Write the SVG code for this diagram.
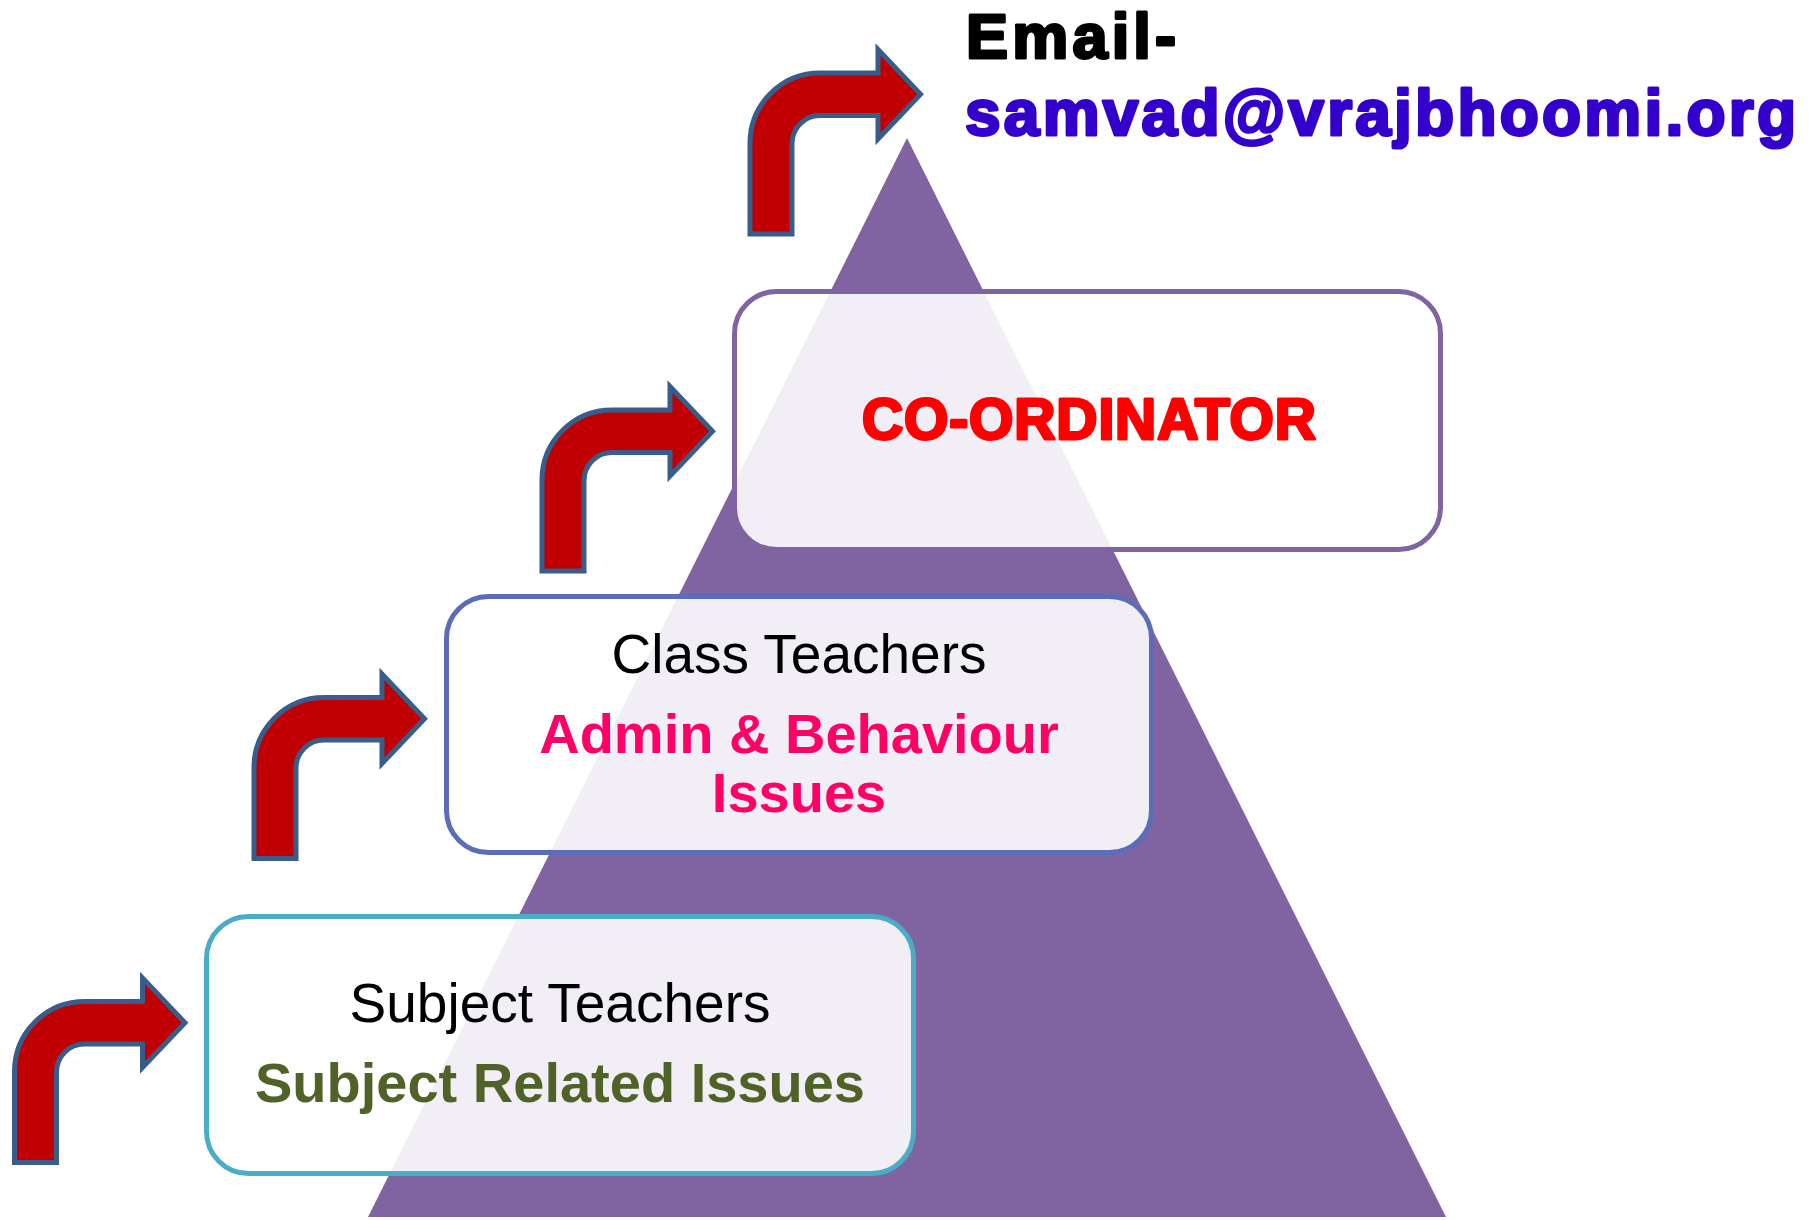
<svg xmlns="http://www.w3.org/2000/svg" xmlns:xlink="http://www.w3.org/1999/xlink" width="1818" height="1220" viewBox="0 0 1818 1220">
<style>
.box{fill:#FFFFFF;fill-opacity:0.89;stroke-width:5}
.reg{font-family:"Liberation Sans",Arial,sans-serif;font-size:55px;fill:#000000;text-anchor:middle}
.bold{font-family:"Liberation Sans",Arial,sans-serif;font-size:56px;font-weight:bold;text-anchor:middle}
.arrow{fill:#C00000;stroke:#385D8A;stroke-width:5;stroke-linejoin:miter}
.heavy{font-family:"Liberation Sans",Arial,sans-serif;font-weight:bold;stroke-width:3;stroke-linejoin:round}
</style>
<defs>
<path id="bentArrow" d="M0 0 V-91 A70 70 0 0 1 70 -161 H128 V-184.5 L170.5 -139.75 L128 -95 V-118.5 H70 A28 28 0 0 0 42 -90.5 V0 Z"/>
</defs>
<rect width="1818" height="1220" fill="#FFFFFF"/>
<polygon id="pyramid" points="907,138 1446,1217 368,1217" fill="#8064A2"/>

<g id="node-subject-teachers">
<rect class="box" x="206.5" y="916.5" width="707" height="257" rx="42" stroke="#4BACC6"/>
<text class="reg" x="560" y="1021.5">Subject Teachers</text>
<text class="bold" x="560" y="1101.5" fill="#4F6228">Subject Related Issues</text>
</g>

<g id="node-class-teachers">
<rect class="box" x="446.5" y="596.5" width="705" height="256" rx="42" stroke="#5B6DB8"/>
<text class="reg" x="799" y="672.5">Class Teachers</text>
<text class="bold" x="799" y="753" fill="#FF0066">Admin &amp; Behaviour</text>
<text class="bold" x="799" y="811.5" fill="#FF0066">Issues</text>
</g>

<g id="node-coordinator">
<rect class="box" x="734.5" y="291.5" width="706" height="258" rx="42" stroke="#8064A2"/>
<text class="heavy" x="1089" y="439" font-size="57" fill="#FF0000" stroke="#FF0000" text-anchor="middle" textLength="454" lengthAdjust="spacing">CO-ORDINATOR</text>
</g>

<g id="node-email">
<text class="heavy" x="966" y="58" font-size="63" fill="#000000" stroke="#000000" textLength="210" lengthAdjust="spacing">Email-</text>
<text class="heavy" x="965" y="135" font-size="64" fill="#3300CC" stroke="#3300CC" textLength="831" lengthAdjust="spacing">samvad@vrajbhoomi.org</text>
</g>

<g id="connectors">
<use xlink:href="#bentArrow" class="arrow" transform="translate(14.5,1162.5)"/>
<use xlink:href="#bentArrow" class="arrow" transform="translate(254,858.5)"/>
<use xlink:href="#bentArrow" class="arrow" transform="translate(542,571)"/>
<use xlink:href="#bentArrow" class="arrow" transform="translate(750,234)"/>
</g>
</svg>
